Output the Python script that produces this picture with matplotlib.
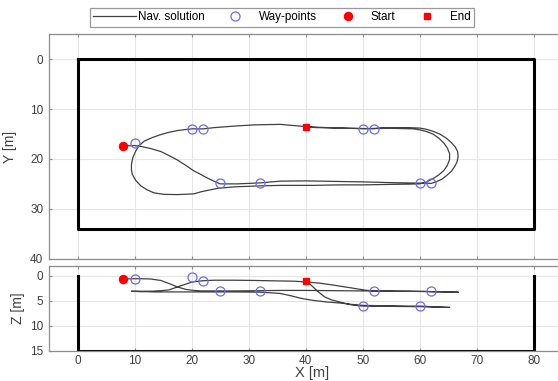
import numpy as np
import matplotlib
matplotlib.use('Agg')
import matplotlib.pyplot as plt

plt.rcParams['font.family'] = ['Liberation Sans', 'DejaVu Sans']

# navigation solution (x, y, z) in metres
# lap 1: start -> lower leg -> outer right turn -> upper leg -> left turn
lap1_x = [8.0, 10.0, 11.2, 12.8, 14.6, 16.0, 17.5, 19.0, 20.4, 21.6, 22.7, 24.0, 25.0,
          28.0, 32.0, 35.5, 40.0, 45.0, 50.0, 55.0, 60.0, 62.0, 62.8, 63.8, 64.6, 65.5,
          66.1, 66.5, 66.7, 66.6, 66.2, 65.5, 64.6, 63.5, 62.2, 61.0, 60.0, 58.0, 56.0,
          53.2, 52.0, 50.4, 48.0, 45.0, 42.5, 40.0, 38.0, 35.5, 31.0, 27.4, 24.0, 22.0,
          20.1, 18.8, 17.5, 16.0, 14.6, 13.1, 11.7, 10.8, 10.2, 9.7, 9.45, 9.45, 9.6,
          10.2, 11.1, 12.2, 13.4, 15.1, 17.5, 20.4, 21.6, 24.5, 27.4]
lap1_y = [17.4, 17.3, 17.5, 17.9, 18.5, 19.3, 20.2, 21.3, 22.4, 23.1, 23.8, 24.5, 25.0,
          25.0, 24.8, 24.45, 24.4, 24.5, 24.6, 24.75, 24.85, 24.9, 24.6, 24.1, 23.4, 22.5,
          21.5, 20.6, 19.5, 18.5, 17.6, 16.7, 15.8, 15.0, 14.4, 14.0, 13.8, 13.7, 13.7,
          13.75, 13.9, 13.9, 13.85, 13.75, 13.65, 13.5, 13.3, 13.05, 13.15, 13.4, 13.7, 13.95,
          13.95, 14.1, 14.3, 14.65, 15.1, 15.7, 16.4, 17.3, 18.4, 19.7, 21.1, 22.2, 23.1,
          24.3, 25.4, 26.2, 26.8, 27.1, 27.15, 27.0, 26.6, 25.9, 25.6]
lap1_z = [0.6, 0.55, 0.55, 0.6, 0.9, 1.5, 2.2, 2.7, 2.9, 3.0, 3.0, 3.0, 3.0,
          3.0, 2.95, 2.9, 2.9, 2.95, 3.0, 3.05, 3.1, 3.15, 3.2, 3.2, 3.2, 3.25,
          3.25, 3.25, 3.25, 3.25, 3.25, 3.2, 3.2, 3.15, 3.15, 3.1, 3.1, 3.05, 3.05,
          3.0, 3.0, 2.85, 2.4, 1.86, 1.45, 1.2, 1.05, 1.0, 0.9, 0.85, 0.85, 0.95,
          1.2, 1.7, 2.2, 2.8, 2.95, 3.05, 3.06, 3.06, 3.06, 3.06, 3.06, 3.06, 3.1,
          3.1, 3.15, 3.15, 3.2, 3.2, 3.2, 3.2, 3.2, 3.2, 3.2]

# lap 2: lower leg -> inner right turn -> upper leg -> end
lap2_x = [32.0, 35.5, 37.5, 39.2, 41.3, 43.5, 46.2, 48.0, 50.0, 55.0, 58.0, 60.0, 61.2,
          62.2, 63.3, 64.2, 64.8, 65.2, 65.2, 64.8, 64.2, 63.3, 62.3, 61.2, 60.0, 58.9,
          55.0, 50.0, 48.0, 46.2, 44.5, 43.3, 42.0, 41.0, 40.4, 40.0]
lap2_y = [25.4, 25.3, 25.3, 25.3, 25.3, 25.25, 25.2, 25.2, 25.2, 25.1, 25.05, 25.0, 24.6,
          24.0, 23.2, 22.3, 21.3, 20.1, 18.9, 17.8, 16.8, 15.8, 15.0, 14.5, 14.15, 13.95,
          13.85, 13.9, 13.85, 13.8, 13.75, 13.72, 13.7, 13.65, 13.62, 13.6]
lap2_z = [3.25, 3.5, 4.0, 4.5, 4.9, 5.2, 5.45, 5.7, 5.9, 6.0, 6.05, 6.05, 6.1,
          6.2, 6.25, 6.3, 6.3, 6.3, 6.3, 6.3, 6.25, 6.25, 6.2, 6.2, 6.15, 6.15,
          6.1, 6.05, 5.8, 5.3, 4.8, 4.2, 3.0, 1.9, 1.3, 1.0]

nav_x = lap1_x + lap2_x
nav_y = lap1_y + lap2_y
nav_z = lap1_z + lap2_z

# way-points
wp_x = [10, 20, 22, 25, 32, 50, 52, 60, 62]
wp_y = [16.8, 13.9, 13.9, 24.8, 24.8, 13.9, 13.9, 24.8, 24.8]
wp_z = [0.6, 0.2, 1.0, 3.0, 3.0, 6.0, 3.0, 6.0, 3.0]

start_xyz = [8.0, 17.4, 0.6]
end_xyz = [40.0, 13.6, 1.0]

# working area
box_x = [0, 80, 80, 0, 0]
box_y = [0, 0, 34, 34, 0]
wall_x = [0, 0, 80, 80]
wall_z = [0, 15, 15, 0]

nav_col = '#404040'
wp_col = '#6b6bff'
spine_col = '#8c8c8c'
txt_col = '#404040'

fig = plt.figure(figsize=(5.58, 3.81), dpi=100)
ax1 = fig.add_axes([0.0878, 0.3213, 0.9204, 0.5882])
ax2 = fig.add_axes([0.0878, 0.0795, 0.9204, 0.2223])

for ax in (ax1, ax2):
    ax.set_xlim(-5, 85)
    ax.set_xticks(np.arange(0, 81, 10))
    ax.grid(True, color='#e6e6e6', lw=0.8)
    ax.set_axisbelow(True)
    for s in ax.spines.values():
        s.set_color(spine_col)
        s.set_linewidth(0.9)
    ax.tick_params(direction='in', length=2.5, width=0.8, color=spine_col,
                   top=True, right=True, labelsize=8.5, labelcolor=txt_col, pad=4)

# XY view
ax1.plot(box_x, box_y, color='k', lw=2.2)
ln, = ax1.plot(nav_x, nav_y, color=nav_col, lw=0.9, label='Nav. solution')
wp, = ax1.plot(wp_x, wp_y, 'o', mfc='none', mec=wp_col, ms=6.5, mew=0.9,
               label='Way-points')
st, = ax1.plot(start_xyz[0], start_xyz[1], 'o', color='red', ms=5.8, label='Start')
en, = ax1.plot(end_xyz[0], end_xyz[1], 's', color='red', ms=4.8, label='End')
ax1.set_ylim(40, -5)
ax1.set_yticks(np.arange(0, 41, 10))
ax1.tick_params(labelbottom=False)
ax1.set_ylabel('Y [m]', fontsize=10, color=txt_col)
ax1.yaxis.set_label_coords(-0.063, 0.5)

# XZ view
ax2.plot(wall_x, wall_z, color='k', lw=2.2)
ax2.plot(nav_x, nav_z, color=nav_col, lw=0.9)
ax2.plot(wp_x, wp_z, 'o', mfc='none', mec=wp_col, ms=6.5, mew=0.9)
ax2.plot(start_xyz[0], start_xyz[2], 'o', color='red', ms=5.8)
ax2.plot(end_xyz[0], end_xyz[2], 's', color='red', ms=4.8)
ax2.set_ylim(15, -2)
ax2.set_yticks([0, 5, 10, 15])
ax2.tick_params(axis='x', pad=3)
ax2.set_ylabel('Z [m]', fontsize=10, color=txt_col)
ax2.yaxis.set_label_coords(-0.047, 0.5)
ax2.set_xlabel('X [m]', fontsize=10.5, color=txt_col)
ax2.xaxis.set_label_coords(0.513, -0.175)

leg = fig.legend(handles=[ln, wp, st, en], loc='center', ncol=4,
                 bbox_to_anchor=(0.505, 0.9545), fontsize=8.4, frameon=True,
                 fancybox=False, handlelength=3.65, handletextpad=0.15,
                 columnspacing=0.85, borderpad=0.3, borderaxespad=0)
leg.get_frame().set_edgecolor('#808080')
leg.get_frame().set_linewidth(0.9)

fig.savefig('out.png', dpi=100)
